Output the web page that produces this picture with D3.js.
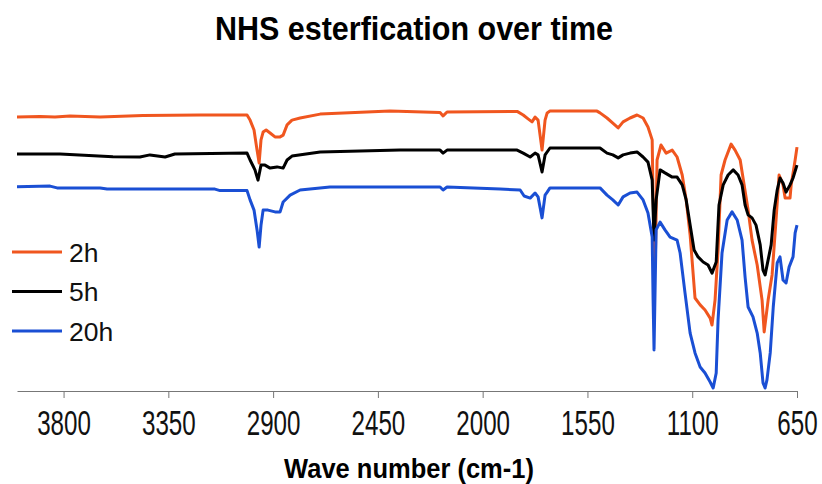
<!DOCTYPE html>
<html>
<head>
<meta charset="utf-8">
<script src="https://cdn.jsdelivr.net/npm/d3@7"></script>
<style>
  html, body { margin: 0; padding: 0; background: #fff; }
  svg { display: block; }
</style>
</head>
<body>
<svg id="chart" width="822" height="484"></svg>
<script>
// FTIR spectra: [wavenumber (cm-1), transmittance (offset, arbitrary %)]
const series2h = [
  [4000,91.3],[3901,91.5],[3837,91.3],[3772,91.7],[3643,91.3],[3459,91.8],[3214,92],[3012,92],
  [2999,90.3],[2982,87],[2969,80.3],[2960,76],[2952,83.7],[2943,86.3],[2930,87],[2913,86],
  [2892,84.7],[2870,84.7],[2857,85.3],[2840,88.7],[2819,90.3],[2784,91],[2698,92.3],[2398,93.3],
  [2183,92.8],[2170,91.7],[2153,93],[1852,93.2],[1826,92],[1805,90.7],[1788,89.7],[1775,91.3],
  [1762,90.3],[1745,80.3],[1732,90.3],[1723,92.7],[1711,93.3],[1509,93.3],[1496,92.7],[1466,91],
  [1441,89.3],[1418,87.7],[1397,89.7],[1367,91],[1337,92],[1311,91],[1290,88],[1272,83.7],
  [1268,63.7],[1259,41.3],[1251,77],[1234,82],[1212,79.3],[1186,80.3],[1165,78],[1143,72],
  [1126,63.7],[1109,52],[1088,31],[1066,28.7],[1045,27],[1023,24.3],[1015,22],[1002,30.3],
  [989,47],[976,72],[959,77],[933,82.3],[916,80.3],[894,77],[877,68.7],[860,60.3],[843,50.3],
  [821,42],[800,30.3],[791,19.7],[774,30.3],[757,38.7],[740,57],[727,72],[710,68.7],[701,64.3],
  [680,64.3],[675,68.7],[658,77],[650,81.3]
];
const series5h = [
  [4000,79],[3815,79],[3588,78.1],[3472,78],[3429,78.7],[3364,78],[3322,79],[3012,79.3],
  [2999,77],[2978,73.7],[2965,70.3],[2952,75.3],[2935,75.3],[2913,74.3],[2883,74.7],[2857,74.3],
  [2840,77],[2819,78.3],[2698,79.7],[2355,80.3],[2183,80.3],[2170,79.3],[2153,80.3],[1852,80.3],
  [1826,79.3],[1796,78],[1775,79.3],[1762,78.7],[1745,73],[1732,78.7],[1711,81],[1496,81],
  [1466,79.3],[1441,78.7],[1418,77.7],[1397,78.7],[1367,79.3],[1337,79.7],[1311,78],[1290,76.3],
  [1272,70.3],[1264,50.3],[1255,63.7],[1238,73.7],[1217,72.7],[1186,71.3],[1165,71.3],[1143,68.7],
  [1126,63.7],[1109,55.3],[1092,47],[1075,44.7],[1053,43],[1032,42],[1015,39.3],[997,43],
  [985,62],[967,68.7],[946,72],[924,73.7],[903,72],[886,68.7],[873,62],[860,58.7],[843,57.7],
  [826,55.3],[808,48.7],[796,40.3],[787,38.7],[774,43.7],[761,48.7],[748,60.3],[735,67],[723,71],
  [710,69.3],[697,66.3],[680,68.7],[667,71],[650,75.3]
];
const series20h = [
  [4000,68.1],[3858,68.3],[3828,67.7],[3643,67.7],[3613,67.3],[3150,67.3],[3128,66.8],[3012,66.8],
  [2999,63.7],[2982,60.3],[2969,53.7],[2960,48],[2952,55.3],[2943,60.3],[2922,60.3],[2892,59.7],
  [2870,59.7],[2857,63],[2827,65.3],[2784,67],[2656,68],[2183,68],[2170,67],[2153,68],[1925,67.3],
  [1839,67],[1822,65],[1796,64.3],[1775,66],[1762,64.7],[1745,57.7],[1732,65.3],[1723,66.3],
  [1711,67.7],[1496,67.7],[1466,65.3],[1441,63.7],[1418,62],[1397,64.7],[1367,66],[1337,66.3],
  [1311,63.7],[1290,59.3],[1272,51.3],[1268,30.3],[1264,13.7],[1255,53.7],[1238,56.3],[1217,53.7],
  [1195,51.3],[1165,50.3],[1152,46],[1131,32.7],[1109,19.3],[1088,12.7],[1066,8],[1045,6],[1023,3],
  [1010,1],[997,6],[989,23.7],[972,46],[950,57],[929,59.7],[907,57],[886,50.3],[873,38],[860,28],
  [839,24.7],[821,19.3],[808,12.7],[796,2.7],[787,1],[779,3.7],[765,12.7],[752,28],[735,42.7],
  [723,44.7],[710,37],[697,36],[684,41.3],[667,44.7],[658,52.7],[650,55.3]
];

const seriesNames = ["2h", "5h", "20h"];
const seriesColors = ["#f0561f", "#000000", "#1a4fd4"];
const xTicks = [3800, 3350, 2900, 2450, 2000, 1550, 1100, 650];

const svg = d3.select("#chart");
const plot = { left: 17, right: 797, top: 91, bottom: 391 };
const font = "Liberation Sans, Arial, sans-serif";

const x = d3.scaleLinear().domain([4000, 650]).range([plot.left, plot.right]);
const y = d3.scaleLinear().domain([0, 100]).range([plot.bottom, plot.top]);

// Title
svg.append("text")
  .attr("transform", "translate(414,40) scale(1,1.1)")
  .attr("text-anchor", "middle")
  .attr("font-family", font)
  .attr("font-weight", "bold")
  .attr("font-size", 30.5)
  .text("NHS esterfication over time");

// Spectra
const line = d3.line().x(d => x(d[0])).y(d => y(d[1]));
[series2h, series5h, series20h].forEach((s, i) => {
  svg.append("path")
    .datum(s)
    .attr("fill", "none")
    .attr("stroke", seriesColors[i])
    .attr("stroke-width", 3)
    .attr("stroke-linejoin", "round")
    .attr("d", line);
});

// X axis
const xAxis = d3.axisBottom(x).tickValues(xTicks).tickSize(7).tickSizeOuter(0).tickFormat(d3.format("d"));
const gx = svg.append("g")
  .attr("transform", `translate(0,${plot.bottom})`)
  .call(xAxis);
gx.select(".domain").attr("stroke", "#777").attr("stroke-width", 1);
gx.selectAll(".tick line").attr("stroke", "#777");
gx.selectAll(".tick text")
  .attr("y", 0).attr("dy", 0)
  .attr("transform", "translate(0,44) scale(0.93,1.38)")
  .attr("font-family", font)
  .attr("font-size", 26)
  .attr("fill", "#111");

// Axis title
svg.append("text")
  .attr("transform", "translate(409,478) scale(1,1.1)")
  .attr("text-anchor", "middle")
  .attr("font-family", font)
  .attr("font-weight", "bold")
  .attr("font-size", 25.5)
  .text("Wave number (cm-1)");

// Legend
const legend = svg.append("g");
seriesNames.forEach((name, i) => {
  const ly = 252 + i * 39.5;
  legend.append("line")
    .attr("x1", 12).attr("x2", 62).attr("y1", ly).attr("y2", ly)
    .attr("stroke", seriesColors[i]).attr("stroke-width", 3);
  legend.append("text")
    .attr("x", 69).attr("y", ly + 9.5)
    .attr("font-family", font)
    .attr("font-size", 26.5)
    .attr("fill", "#111")
    .text(name);
});
</script>
</body>
</html>
